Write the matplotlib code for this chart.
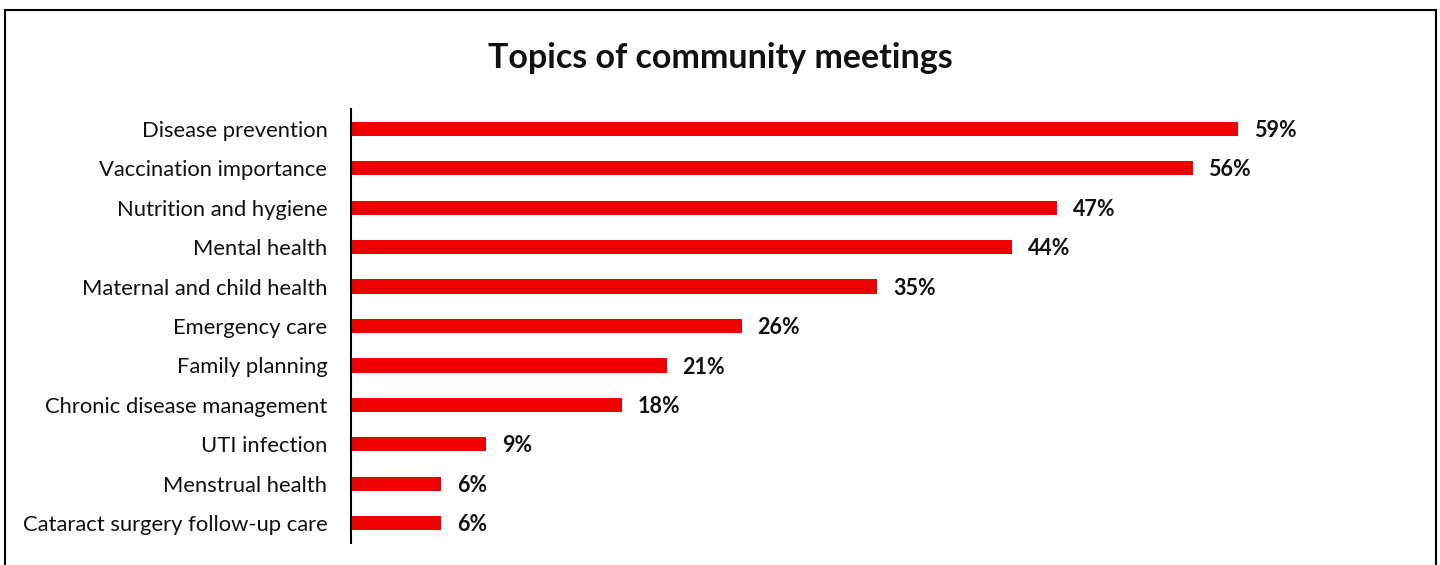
import matplotlib.pyplot as plt
from matplotlib.patches import Rectangle

topics = [
    "Disease prevention",
    "Vaccination importance",
    "Nutrition and hygiene",
    "Mental health",
    "Maternal and child health",
    "Emergency care",
    "Family planning",
    "Chronic disease management",
    "UTI infection",
    "Menstrual health",
    "Cataract surgery follow-up care",
]
shares = [59, 56, 47, 44, 35, 26, 21, 18, 9, 6, 6]

plt.rcParams['font.family'] = ['Lato', 'DejaVu Sans']

fig = plt.figure(figsize=(14.4, 5.65), dpi=100)
ax = fig.add_axes([0.24375, 0.0389, 0.6785, 0.7682])

ypos = list(range(len(topics)))
ax.barh(ypos, shares, height=0.36, color="#EE0000")
ax.set_ylim(len(topics) - 0.5, -0.5)
ax.set_xlim(0, 65)

for y, v in zip(ypos, shares):
    ax.text(v + 1.05, y + 0.04, f"{v}%", va="center", ha="left",
            fontsize=15.5, fontweight="bold", color="#111111")

ax.set_yticks(ypos)
ax.set_yticklabels(topics, fontsize=15.8, color="#111111")
ax.tick_params(axis="y", length=0, pad=17)
ax.set_xticks([])
for side in ["top", "right", "bottom"]:
    ax.spines[side].set_visible(False)
ax.spines["left"].set_linewidth(1.5)

fig.text(0.5, 0.898, "Topics of community meetings", ha="center", va="center",
         fontsize=24.5, fontweight="bold", color="#111111")

# outer frame, bottom edge runs off the canvas
fig.patches.append(Rectangle((5 / 1440, -0.05), 1431 / 1440, 1.05 - 10 / 565,
                             transform=fig.transFigure, fill=False,
                             edgecolor="black", linewidth=1.5))

fig.savefig("out.png", dpi=100)
